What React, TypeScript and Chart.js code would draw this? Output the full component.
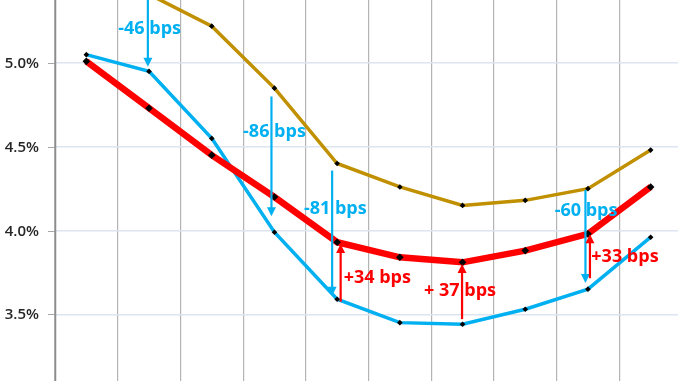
import React, { useEffect, useRef } from "react";
import { Chart, registerables } from "chart.js";

Chart.register(...registerables);

const categories = ["1", "2", "3", "4", "5", "6", "7", "8", "9", "10"];
const goldSeries = [5.6, 5.41, 5.22, 4.85, 4.4, 4.26, 4.15, 4.18, 4.25, 4.48];
const redSeries = [5.01, 4.73, 4.45, 4.2, 3.93, 3.84, 3.81, 3.88, 3.98, 4.26];
const blueSeries = [5.05, 4.95, 4.55, 3.99, 3.59, 3.45, 3.44, 3.53, 3.65, 3.96];
const yTickValues = [3.5, 4.0, 4.5, 5.0];

// arrows: category index, start value, end (tip) value
const arrowIndex = [1, 3, 4, 4, 6, 8, 8];
const arrowFrom = [5.41, 4.8, 4.358, 3.575, 3.471, 4.242, 3.715];
const arrowTo = [4.978, 4.085, 3.61, 3.92, 3.8, 3.686, 3.978];
const arrowShift = [-1.2, -3, -5, 3.5, -0.5, -2.5, 2];
const arrowKind = ["blue", "blue", "blue", "red", "red", "blue", "red"];

// labels: text, category position, value
const labelTexts = ["-46 bps", "-86 bps", "-81 bps", "+34 bps", "+ 37 bps", "-60 bps", "+33 bps"];
const labelPos = [1.01, 3.0, 3.97, 4.64, 5.96, 7.97, 8.59];
const labelVal = [5.206, 4.588, 4.129, 3.719, 3.637, 4.115, 3.842];
const labelKind = ["blue", "blue", "blue", "red", "red", "blue", "red"];

const BLUE = "#00B0F0";
const RED = "#FF0000";
const GOLD = "#C09000";

const annotationPlugin = {
  id: "annots",
  afterDatasetsDraw(chart: any) {
    const { ctx, scales } = chart;
    const x = scales.x;
    const y = scales.y;
    ctx.save();
    for (let i = 0; i < arrowIndex.length; i++) {
      const col = arrowKind[i] === "blue" ? BLUE : RED;
      const px = x.getPixelForValue(arrowIndex[i]) + arrowShift[i];
      const y1 = y.getPixelForValue(arrowFrom[i]);
      const y2 = y.getPixelForValue(arrowTo[i]);
      const dir = y2 > y1 ? 1 : -1;
      const head = 9;
      ctx.strokeStyle = col;
      ctx.fillStyle = col;
      ctx.lineWidth = 2.2;
      ctx.beginPath();
      ctx.moveTo(px, y1);
      ctx.lineTo(px, y2 - dir * head * 0.8);
      ctx.stroke();
      ctx.beginPath();
      ctx.moveTo(px, y2);
      ctx.lineTo(px - 4.5, y2 - dir * head);
      ctx.lineTo(px + 4.5, y2 - dir * head);
      ctx.closePath();
      ctx.fill();
    }
    ctx.font = "bold 18px 'Open Sans', sans-serif";
    ctx.textAlign = "center";
    ctx.textBaseline = "middle";
    for (let i = 0; i < labelTexts.length; i++) {
      ctx.fillStyle = labelKind[i] === "blue" ? BLUE : RED;
      const px = x.getPixelForValue(labelPos[i]);
      const py = y.getPixelForValue(labelVal[i]);
      ctx.fillText(labelTexts[i], px, py);
    }
    ctx.restore();
  },
};

const axisPlugin = {
  id: "yaxisDraw",
  afterDraw(chart: any) {
    const { ctx, scales, chartArea } = chart;
    const y = scales.y;
    ctx.save();
    ctx.font = "600 15px 'Open Sans', sans-serif";
    ctx.fillStyle = "#262626";
    ctx.textAlign = "right";
    ctx.textBaseline = "middle";
    ctx.strokeStyle = "#A6A6A6";
    ctx.lineWidth = 1;
    for (const v of yTickValues) {
      const py = Math.round(y.getPixelForValue(v)) + 0.5;
      ctx.beginPath();
      ctx.moveTo(chartArea.left - 7, py);
      ctx.lineTo(chartArea.left, py);
      ctx.stroke();
      ctx.fillText(v.toFixed(1) + "%", chartArea.left - 16, py);
    }
    ctx.strokeStyle = "#8C8C8C";
    ctx.lineWidth = 1.5;
    ctx.beginPath();
    ctx.moveTo(chartArea.left + 0.5, chartArea.top);
    ctx.lineTo(chartArea.left + 0.5, chartArea.bottom);
    ctx.stroke();
    ctx.restore();
  },
};

export default function App() {
  const ref = useRef<HTMLCanvasElement>(null);
  useEffect(() => {
    if (!ref.current) return;
    const pointCommon = {
      pointStyle: "rectRot",
      pointBackgroundColor: "#000",
      pointBorderColor: "#000",
      pointBorderWidth: 0,
    };
    const chart = new Chart(ref.current, {
      type: "line",
      data: {
        labels: categories,
        datasets: [
          {
            label: "Red",
            data: redSeries,
            borderColor: RED,
            borderWidth: 6.5,
            pointRadius: 3.8,
            order: 1,
            ...pointCommon,
          } as any,
          {
            label: "Blue",
            data: blueSeries,
            borderColor: BLUE,
            borderWidth: 3.5,
            pointRadius: 2.8,
            order: 2,
            ...pointCommon,
          },
          {
            label: "Gold",
            data: goldSeries,
            borderColor: GOLD,
            borderWidth: 3.5,
            pointRadius: 2.8,
            order: 3,
            ...pointCommon,
          },
        ],
      },
      options: {
        animation: false,
        responsive: false,
        maintainAspectRatio: false,
        layout: { padding: { left: 55, right: 0, top: 0, bottom: 0 } },
        plugins: { legend: { display: false }, tooltip: { enabled: false } },
        scales: {
          x: {
            type: "category",
            offset: true,
            ticks: { display: false },
            border: { display: false },
            grid: { display: true, offset: true, drawTicks: false, color: "#B4B4B4", lineWidth: 1.2 },
          },
          y: {
            min: 3.0,
            max: 5.4,
            ticks: { display: false },
            border: { display: false },
            grid: { display: true, drawTicks: false, color: "#DDE5F0", lineWidth: 1.5 },
            afterBuildTicks: (scale: any) => {
              scale.ticks = yTickValues.map((v) => ({ value: v }));
            },
          },
        },
      } as any,
      plugins: [annotationPlugin, axisPlugin],
    });
    return () => chart.destroy();
  }, []);
  return (
    <div
      style={{
        position: "fixed",
        left: 0,
        top: 0,
        width: 678,
        height: 381,
        overflow: "hidden",
        background: "#fff",
      }}
    >
      <canvas
        ref={ref}
        width={686}
        height={410}
        style={{ position: "absolute", left: 0, top: -8, width: 686, height: 410 }}
      />
    </div>
  );
}
